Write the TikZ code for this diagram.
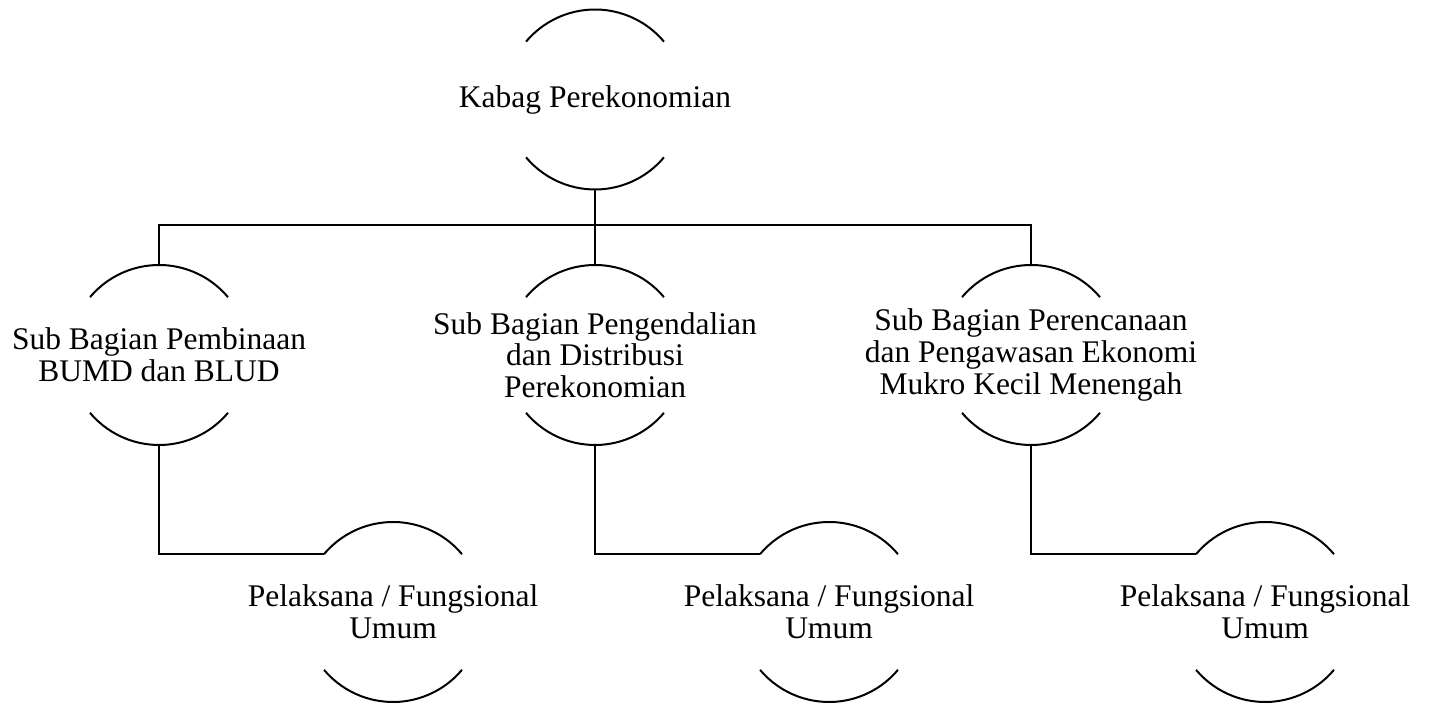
\documentclass[tikz,border=0pt]{standalone}
\usepackage{fontspec}
\setmainfont{Liberation Serif}
\usepackage{tikz}
\usetikzlibrary{positioning}

\tikzset{
  unit/.style={inner sep=0pt,outer sep=0pt,align=center,
    font=\fontsize{15.75pt}{15.8pt}\selectfont},
  link/.style={line width=1pt}
}

\begin{document}
\begin{tikzpicture}[x=1pt,y=1pt,line width=1pt]
\useasboundingbox (0,0) rectangle (715,-352);
% head
\node[unit] (kabag) at (297.5,-49.75) {Kabag Perekonomian};
% sub bagian
\node[unit] (subA) at (79.5,-177.5) {Sub Bagian Pembinaan\\BUMD dan BLUD};
\node[unit] (subB) at (297.5,-177.5) {Sub Bagian Pengendalian\\dan Distribusi\\Perekonomian};
\node[unit] (subC) at (515.5,-177.5) {Sub Bagian Perencanaan\\dan Pengawasan Ekonomi\\Mukro Kecil Menengah};
% pelaksana
\node[unit] (pelA) at (196.5,-306) {Pelaksana / Fungsional\\Umum};
\node[unit] (pelB) at (414.5,-306) {Pelaksana / Fungsional\\Umum};
\node[unit] (pelC) at (632.5,-306) {Pelaksana / Fungsional\\Umum};

% open circles
\foreach \n in {kabag,subA,subB,subC,pelA,pelB,pelC} {
  \draw ([shift={(140:45)}]\n.center) arc[start angle=140,end angle=40,radius=45];
  \draw ([shift={(220:45)}]\n.center) arc[start angle=220,end angle=320,radius=45];
  \coordinate (\n-top) at ([yshift=45]\n.center);
  \coordinate (\n-bot) at ([yshift=-45]\n.center);
  \coordinate (\n-w) at ([shift={(140:45)}]\n.center);
}

% links
\coordinate (bus) at ([yshift=-18]kabag-bot);
\draw[link] (kabag-bot) -- (bus);
\draw[link] (subA-top) |- (bus) -| (subC-top);
\draw[link] (bus) -- (subB-top);
\foreach \s/\p in {subA/pelA,subB/pelB,subC/pelC}
  \draw[link] (\s-bot) |- (\p-w);
\end{tikzpicture}
\end{document}
